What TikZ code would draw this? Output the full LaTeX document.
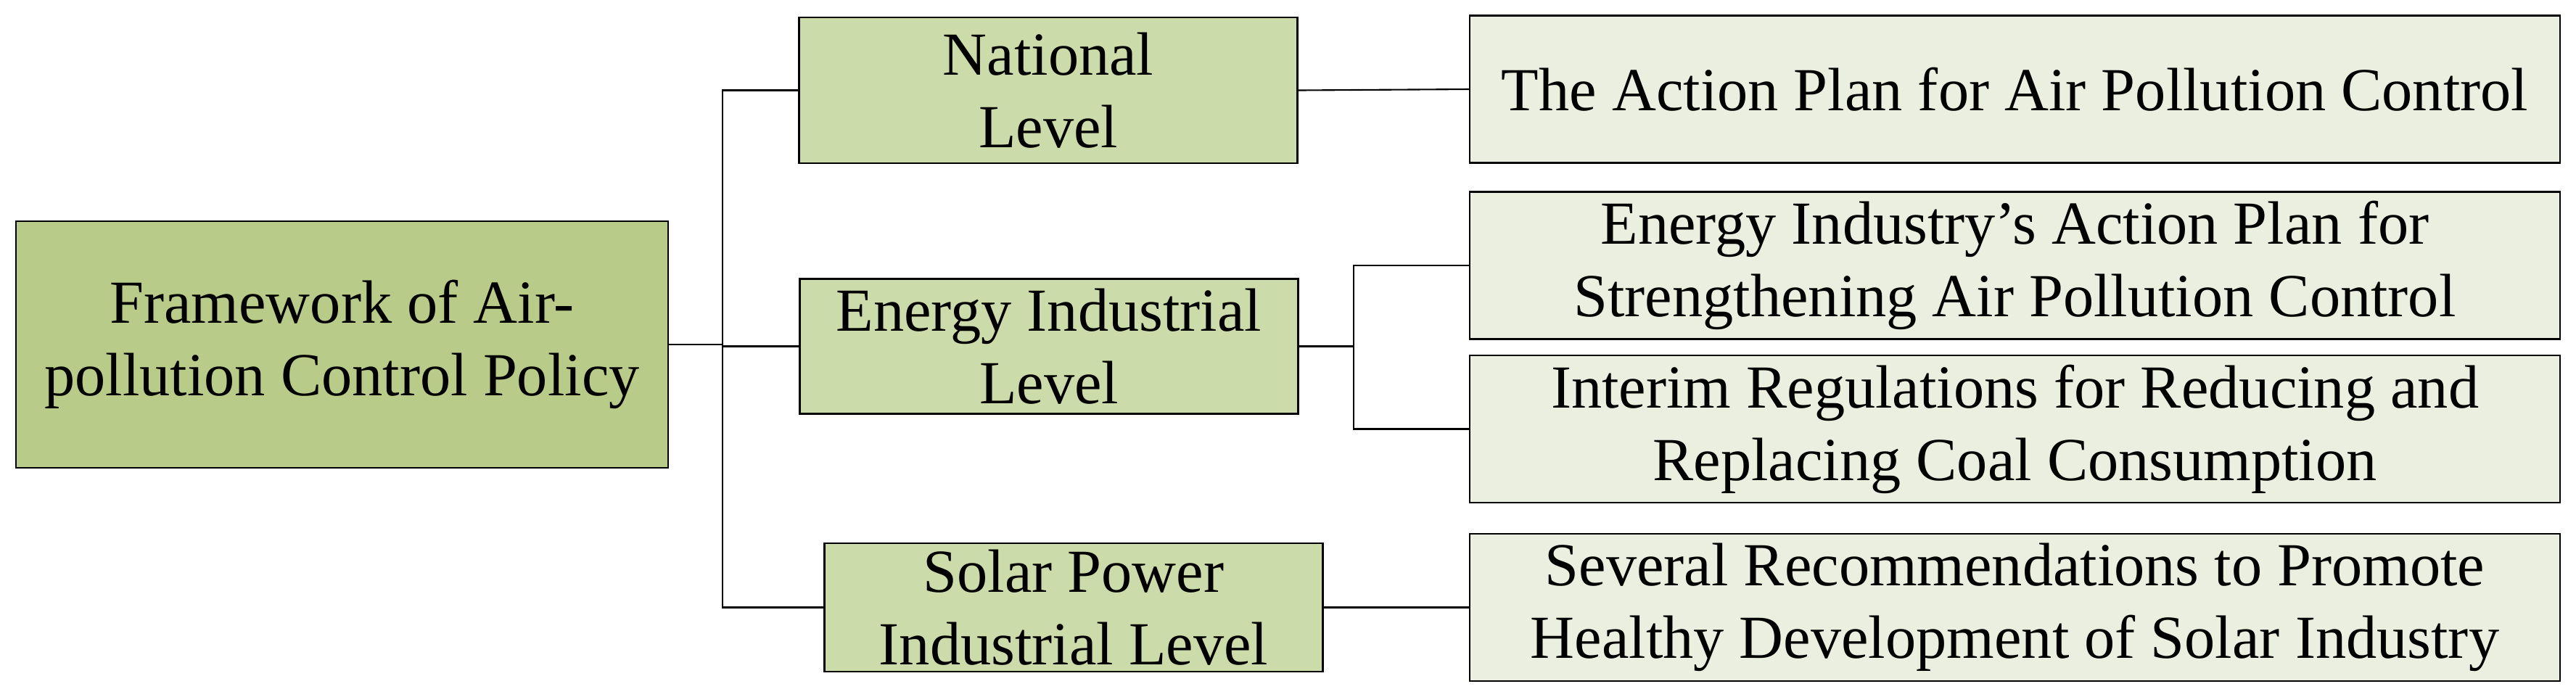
\documentclass[tikz,border=0pt]{standalone}
\usepackage{fontspec}
\setmainfont{Liberation Serif}
\definecolor{rootgreen}{RGB}{184,203,136}
\definecolor{lvlgreen}{RGB}{204,219,170}
\definecolor{leafgreen}{RGB}{235,239,223}
\tikzset{
  box/.style={draw, line width=.6pt, inner sep=0pt, align=center,
    font=\fontsize{24}{28.5}\selectfont},
  rootbox/.style={box, fill=rootgreen, minimum width=8.99cm, minimum height=3.40cm},
  lvlbox/.style={box, fill=lvlgreen, minimum width=6.87cm},
  leafbox/.style={box, fill=leafgreen, minimum width=15.03cm, minimum height=2.03cm},
  link/.style={line width=.6pt}
}
\begin{document}
\begin{tikzpicture}[line join=miter]
            \useasboundingbox (0,0) rectangle (35.51,-9.60);
            \node[rootbox] (root) at (4.715,-4.75) {Framework of Air-\\pollution Control Policy};
            \node[lvlbox, minimum height=2.01cm] (natl) at (14.45,-1.245) {National\\Level};
            \node[lvlbox, minimum height=1.86cm] (energy) at (14.46,-4.775) {Energy Industrial\\Level};
            \node[lvlbox, minimum height=1.77cm] (solar) at (14.80,-8.375) {Solar Power\\Industrial Level};
            \node[leafbox] (action) at (27.775,-1.23) {The Action Plan for Air Pollution Control};
            \node[leafbox] (eiap) at (27.775,-3.66) {Energy Industry’s Action Plan for\\Strengthening Air Pollution Control};
            \node[leafbox] (interim) at (27.775,-5.915) {Interim Regulations for Reducing and\\Replacing Coal Consumption};
            \node[leafbox] (several) at (27.775,-8.375) {Several Recommendations to Promote\\Healthy Development of Solar Industry};
            \coordinate (trunk) at (9.96,-4.76);
            \coordinate (sub) at (18.66,-4.775);
            % first level
            \draw[link] (root.east) -- (root.east -| trunk);
            \draw[link] (natl.west) -| (trunk) |- (solar.west);
            \draw[link] (energy.west) -- (energy.west -| trunk);
            % second level
            \draw[link] (natl.east) -- (action.west);
            \draw[link] (energy.east) -- (sub);
            \draw[link] (eiap.west) -| (sub) |- (interim.west);
            \draw[link] (solar.east) -- (several.west);
    \end{tikzpicture}
\end{document}
